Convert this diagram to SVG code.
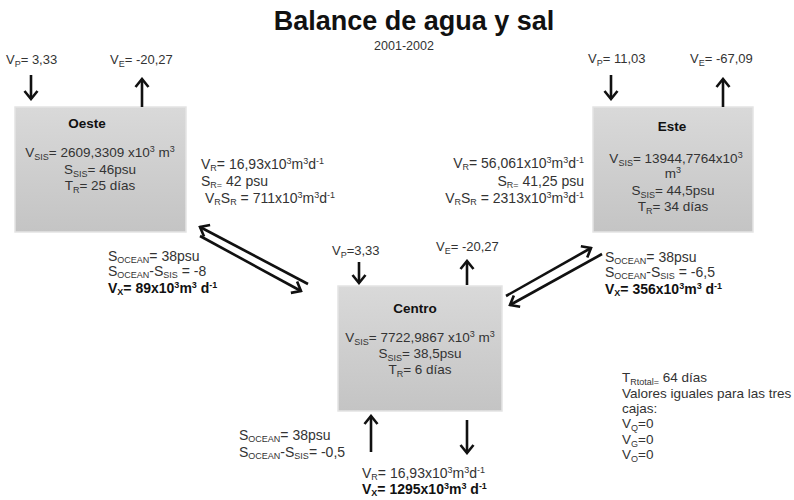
<svg xmlns="http://www.w3.org/2000/svg" width="794" height="500" viewBox="0 0 794 500">
<defs>
<linearGradient id="g" x1="0" y1="0" x2="0" y2="1">
<stop offset="0" stop-color="#d9d9d9"/>
<stop offset="1" stop-color="#c4c4c4"/>
</linearGradient>
<marker id="ah" markerUnits="userSpaceOnUse" viewBox="-12 -10 14 20" markerWidth="14" markerHeight="20" refX="0" refY="0" orient="auto">
<path d="M-8,-6.5 L0,0 L-8,6.5" fill="none" stroke="#111" stroke-width="2.6"/>
</marker>
<style>
.t{font-family:"Liberation Sans",Arial,sans-serif;font-size:13px;fill:#333}
.x{font-size:13.5px}
.f{font-size:14px}
.b{font-weight:bold;fill:#111}
.h{font-family:"Liberation Sans",Arial,sans-serif;font-size:27px;font-weight:bold;fill:#111}
.s{font-size:9px}
.box{fill:url(#g);stroke:#e4e4e4;stroke-width:1.5}
.ar{stroke:#111;stroke-width:2.6;fill:none;marker-end:url(#ah)}
.m{text-anchor:middle}
.e{text-anchor:end}
</style>
</defs>
<rect width="794" height="500" fill="#fff"/>
<text class="h m" x="414" y="30">Balance de agua y sal</text>
<text class="t m" x="404" y="50" style="font-size:12.5px">2001-2002</text>

<g id="oeste">
<rect class="box" x="15" y="107" width="171" height="125"/>
<text class="t x b m" x="87" y="128">Oeste</text>
<text class="t x m" x="100" y="157">V<tspan class="s" dy="2.5">SIS</tspan><tspan dy="-2.5">= 2609,3309 x10</tspan><tspan class="s" dy="-5">3</tspan><tspan dy="5"> m</tspan><tspan class="s" dy="-5">3</tspan></text>
<text class="t x m" x="100" y="174">S<tspan class="s" dy="2.5">SIS</tspan><tspan dy="-2.5">= 46psu</tspan></text>
<text class="t x m" x="100" y="190">T<tspan class="s" dy="2.5">R</tspan><tspan dy="-2.5">= 25 días</tspan></text>
</g>

<g id="este">
<rect class="box" x="593" y="107" width="160" height="125"/>
<text class="t x b m" x="672" y="131">Este</text>
<text class="t x m" x="676" y="163">V<tspan class="s" dy="2.5">SIS</tspan><tspan dy="-2.5">= 13944,7764x10</tspan><tspan class="s" dy="-5">3</tspan></text>
<text class="t x m" x="673" y="178">m<tspan class="s" dy="-5">3</tspan></text>
<text class="t x m" x="673" y="195">S<tspan class="s" dy="2.5">SIS</tspan><tspan dy="-2.5">= 44,5psu</tspan></text>
<text class="t x m" x="673" y="211">T<tspan class="s" dy="2.5">R</tspan><tspan dy="-2.5">= 34 días</tspan></text>
</g>

<g id="centro">
<rect class="box" x="338" y="286" width="164" height="125"/>
<text class="t x b m" x="415" y="313">Centro</text>
<text class="t x m" x="420" y="342">V<tspan class="s" dy="2.5">SIS</tspan><tspan dy="-2.5">= 7722,9867 x10</tspan><tspan class="s" dy="-5">3</tspan><tspan dy="5"> m</tspan><tspan class="s" dy="-5">3</tspan></text>
<text class="t x m" x="420" y="358">S<tspan class="s" dy="2.5">SIS</tspan><tspan dy="-2.5">= 38,5psu</tspan></text>
<text class="t x m" x="420" y="374">T<tspan class="s" dy="2.5">R</tspan><tspan dy="-2.5">= 6 días</tspan></text>
</g>

<g id="connectors">
<line class="ar" x1="31" y1="75" x2="31" y2="99"/>
<line class="ar" x1="142" y1="107" x2="142" y2="79"/>
<line class="ar" x1="611" y1="75" x2="611" y2="99"/>
<line class="ar" x1="723" y1="107" x2="723" y2="79"/>
<line class="ar" x1="359" y1="262" x2="359" y2="283"/>
<line class="ar" x1="467" y1="285" x2="467" y2="261"/>
<line class="ar" x1="371" y1="452" x2="371" y2="416"/>
<line class="ar" x1="467" y1="420" x2="467" y2="453"/>
<line class="ar" x1="308" y1="284" x2="200" y2="227"/>
<line class="ar" x1="200" y1="236" x2="301" y2="291"/>
<line class="ar" x1="506" y1="296" x2="591" y2="248"/>
<line class="ar" x1="602" y1="254" x2="510" y2="305"/>
</g>

<g id="labels">
<text class="t" x="6" y="64">V<tspan class="s" dy="2.5">P</tspan><tspan dy="-2.5">= 3,33</tspan></text>
<text class="t" x="110" y="64">V<tspan class="s" dy="2.5">E</tspan><tspan dy="-2.5">= -20,27</tspan></text>
<text class="t" x="588" y="63">V<tspan class="s" dy="2.5">P</tspan><tspan dy="-2.5">= 11,03</tspan></text>
<text class="t" x="690" y="63">V<tspan class="s" dy="2.5">E</tspan><tspan dy="-2.5">= -67,09</tspan></text>
<text class="t" x="332" y="255">V<tspan class="s" dy="2.5">P</tspan><tspan dy="-2.5">=3,33</tspan></text>
<text class="t" x="436" y="251">V<tspan class="s" dy="2.5">E</tspan><tspan dy="-2.5">= -20,27</tspan></text>

<text class="t f" x="201" y="169">V<tspan class="s" dy="2">R</tspan><tspan dy="-2">= 16,93x10</tspan><tspan class="s" dy="-5">3</tspan><tspan dy="5">m</tspan><tspan class="s" dy="-5">3</tspan><tspan dy="5">d</tspan><tspan class="s" dy="-5">-1</tspan></text>
<text class="t f" x="201" y="186">S<tspan class="s" dy="2">R=</tspan><tspan dy="-2"> 42 psu</tspan></text>
<text class="t f" x="205" y="203">V<tspan class="s" dy="2">R</tspan><tspan dy="-2">S</tspan><tspan class="s" dy="2">R</tspan><tspan dy="-2"> = 711x10</tspan><tspan class="s" dy="-5">3</tspan><tspan dy="5">m</tspan><tspan class="s" dy="-5">3</tspan><tspan dy="5">d</tspan><tspan class="s" dy="-5">-1</tspan></text>

<text class="t f e" x="584" y="168">V<tspan class="s" dy="2">R</tspan><tspan dy="-2">= 56,061x10</tspan><tspan class="s" dy="-5">3</tspan><tspan dy="5">m</tspan><tspan class="s" dy="-5">3</tspan><tspan dy="5">d</tspan><tspan class="s" dy="-5">-1</tspan></text>
<text class="t f e" x="584" y="186">S<tspan class="s" dy="2">R=</tspan><tspan dy="-2">  41,25 psu</tspan></text>
<text class="t f e" x="584" y="203">V<tspan class="s" dy="2">R</tspan><tspan dy="-2">S</tspan><tspan class="s" dy="2">R</tspan><tspan dy="-2"> = 2313x10</tspan><tspan class="s" dy="-5">3</tspan><tspan dy="5">m</tspan><tspan class="s" dy="-5">3</tspan><tspan dy="5">d</tspan><tspan class="s" dy="-5">-1</tspan></text>

<text class="t f" x="108" y="261">S<tspan class="s" dy="2">OCEAN</tspan><tspan dy="-2">=  38psu</tspan></text>
<text class="t f" x="108" y="276">S<tspan class="s" dy="2">OCEAN</tspan><tspan dy="-2">-S</tspan><tspan class="s" dy="2">SIS</tspan><tspan dy="-2"> = -8</tspan></text>
<text class="t f b" x="108" y="293">V<tspan class="s" dy="2">X</tspan><tspan dy="-2">= 89x10</tspan><tspan class="s" dy="-5">3</tspan><tspan dy="5">m</tspan><tspan class="s" dy="-5">3</tspan><tspan dy="5"> d</tspan><tspan class="s" dy="-5">-1</tspan></text>

<text class="t f" x="605" y="262">S<tspan class="s" dy="2">OCEAN</tspan><tspan dy="-2">= 38psu</tspan></text>
<text class="t f" x="605" y="277">S<tspan class="s" dy="2">OCEAN</tspan><tspan dy="-2">-S</tspan><tspan class="s" dy="2">SIS</tspan><tspan dy="-2"> = -6,5</tspan></text>
<text class="t f b" x="605" y="294">V<tspan class="s" dy="2">X</tspan><tspan dy="-2">= 356x10</tspan><tspan class="s" dy="-5">3</tspan><tspan dy="5">m</tspan><tspan class="s" dy="-5">3</tspan><tspan dy="5"> d</tspan><tspan class="s" dy="-5">-1</tspan></text>

<text class="t f" x="239" y="440">S<tspan class="s" dy="2">OCEAN</tspan><tspan dy="-2">= 38psu</tspan></text>
<text class="t f" x="239" y="457">S<tspan class="s" dy="2">OCEAN</tspan><tspan dy="-2">-S</tspan><tspan class="s" dy="2">SIS</tspan><tspan dy="-2">= -0,5</tspan></text>

<text class="t f" x="362" y="478">V<tspan class="s" dy="2">R</tspan><tspan dy="-2">= 16,93x10</tspan><tspan class="s" dy="-5">3</tspan><tspan dy="5">m</tspan><tspan class="s" dy="-5">3</tspan><tspan dy="5">d</tspan><tspan class="s" dy="-5">-1</tspan></text>
<text class="t f b" x="362" y="494">V<tspan class="s" dy="2">X</tspan><tspan dy="-2">= 1295x10</tspan><tspan class="s" dy="-5">3</tspan><tspan dy="5">m</tspan><tspan class="s" dy="-5">3</tspan><tspan dy="5"> d</tspan><tspan class="s" dy="-5">-1</tspan></text>

<text class="t x" x="622" y="382">T<tspan class="s" dy="2.5">Rtotal=</tspan><tspan dy="-2.5"> 64 días</tspan></text>
<text class="t x" x="622" y="398">Valores iguales para las tres</text>
<text class="t x" x="622" y="413">cajas:</text>
<text class="t x" x="622" y="428">V<tspan class="s" dy="2.5">Q</tspan><tspan dy="-2.5">=0</tspan></text>
<text class="t x" x="622" y="444">V<tspan class="s" dy="2.5">G</tspan><tspan dy="-2.5">=0</tspan></text>
<text class="t x" x="622" y="459">V<tspan class="s" dy="2.5">O</tspan><tspan dy="-2.5">=0</tspan></text>
</g>
</svg>
